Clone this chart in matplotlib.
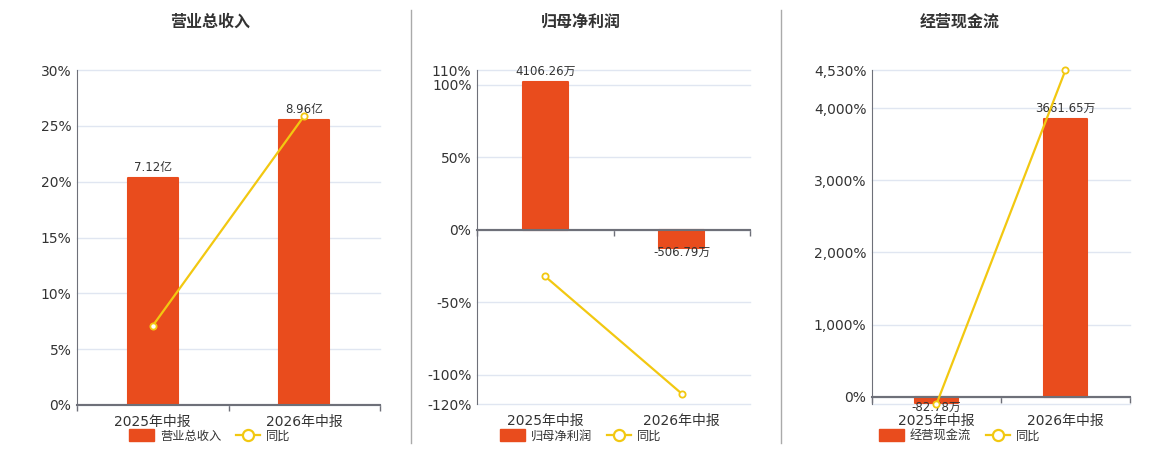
import matplotlib
matplotlib.use('Agg')
import matplotlib.pyplot as plt
from matplotlib.lines import Line2D
from matplotlib.patches import Patch
from matplotlib.ticker import FuncFormatter

plt.rcParams['font.family'] = ['DejaVu Sans', 'Noto Sans CJK SC']

BAR_COLOR = '#E94C1D'
LINE_COLOR = '#F2C811'
GRID_COLOR = '#E0E6F1'
AXIS_COLOR = '#6E7079'
TEXT_COLOR = '#333333'

periods = ['2025年中报', '2026年中报']

titles = ['营业总收入', '归母净利润', '经营现金流']

revenue = [7.12, 8.96]  # 亿
revenue_labels = ['7.12亿', '8.96亿']
revenue_yoy = [7.1, 25.9]

profit = [4106.26, -506.79]  # 万
profit_labels = ['4106.26万', '-506.79万']
profit_yoy = [-32.2, -112.9]

cashflow = [-82.78, 3661.65]  # 万
cashflow_labels = ['-82.78万', '3661.65万']
cashflow_yoy = [-101.0, 4530.0]

# y ticks of the percent axis (negative one in panel 3 is grid only)
yticks_1 = [0, 5, 10, 15, 20, 25, 30]
yticks_2 = [-120, -100, -50, 0, 50, 100, 110]
yticks_3 = [-101, 0, 1000, 2000, 3000, 4000, 4530]


def pct(v, pos=None):
    return f'{v:,.0f}%'


def pct_3(v, pos=None):
    if v < 0:
        return ''
    return f'{v:,.0f}%'


def draw_panel(fig, rect, title, title_x, bars, bar_labels, yoy, yticks, ylim, bar_lim, fmt):
    ax = fig.add_axes(rect)
    ax.set_xlim(-0.5, 1.5)
    ax.set_ylim(*ylim)
    ax.set_yticks(yticks)
    ax.yaxis.set_major_formatter(FuncFormatter(fmt))
    ax.yaxis.grid(True, color=GRID_COLOR, lw=1)
    for gl in ax.get_ygridlines():
        gl.set_clip_on(False)
    ax.set_axisbelow(True)
    ax.tick_params(axis='y', length=0, labelsize=10, labelcolor=TEXT_COLOR, pad=4)
    ax.set_xticks([-0.5, 0.5, 1.5])
    ax.set_xticklabels([])
    ax.tick_params(axis='x', length=4, width=1, color=AXIS_COLOR)
    for s in ['top', 'right']:
        ax.spines[s].set_visible(False)
    ax.spines['left'].set_color(AXIS_COLOR)
    ax.spines['bottom'].set_color(AXIS_COLOR)
    ax.spines['bottom'].set_linewidth(1.5)
    ax.spines['bottom'].set_position(('data', 0))

    for i, p in enumerate(periods):
        ax.annotate(p, xy=(i, 0), xycoords=('data', 'axes fraction'), xytext=(0, -7),
                    textcoords='offset points', ha='center', va='top', fontsize=10,
                    color=TEXT_COLOR)

    # bars on their own hidden scale, zero aligned with the percent axis
    axb = ax.twinx()
    axb.set_ylim(*bar_lim)
    axb.axis('off')
    rects = axb.bar(range(len(bars)), bars, width=0.33, color=BAR_COLOR,
                    edgecolor=BAR_COLOR, linewidth=1.5, joinstyle='round', zorder=2)
    axb.axhline(0, color=AXIS_COLOR, lw=1.5, zorder=3)
    for r, v, lab in zip(rects, bars, bar_labels):
        if v >= 0:
            axb.annotate(lab, xy=(r.get_x() + r.get_width() / 2, v), xytext=(0, 3),
                         textcoords='offset points', ha='center', va='bottom',
                         fontsize=8.5, color=TEXT_COLOR, zorder=5)
        else:
            axb.annotate(lab, xy=(r.get_x() + r.get_width() / 2, v), xytext=(0, 1.5),
                         textcoords='offset points', ha='center', va='top',
                         fontsize=8.5, color=TEXT_COLOR, zorder=5)

    # yoy line on top
    axl = ax.twinx()
    axl.set_ylim(*ylim)
    axl.axis('off')
    axl.plot(range(len(yoy)), yoy, color=LINE_COLOR, lw=1.6, marker='o', markersize=4.5,
             markerfacecolor='white', markeredgecolor=LINE_COLOR, markeredgewidth=1.3,
             clip_on=False, zorder=4)

    fig.text(title_x, 1 - 22 / 450, title, ha='center', va='center', fontsize=11.5,
             fontweight='bold', color=TEXT_COLOR)

    handles = [Patch(facecolor=BAR_COLOR, edgecolor=BAR_COLOR),
               Line2D([], [], color=LINE_COLOR, lw=1.6, marker='o', markersize=8,
                      markerfacecolor='white', markeredgecolor=LINE_COLOR, markeredgewidth=1.6)]
    fig.legend(handles, [title, '同比'], loc='center', bbox_to_anchor=(title_x, 1 - 436 / 450),
               ncol=2, frameon=False, fontsize=8.8, handlelength=2.0, handleheight=1.1,
               columnspacing=1.2, handletextpad=0.5, labelcolor=TEXT_COLOR)


fig = plt.figure(figsize=(11.6, 4.5), dpi=100)
W, H = 1160, 450

draw_panel(fig, [77 / W, 1 - 405 / H, 303 / W, 335 / H], titles[0], 210 / W,
           revenue, revenue_labels, revenue_yoy, yticks_1, (0, 30), (0, 10.53), pct)
draw_panel(fig, [477 / W, 1 - 404 / H, 273 / W, 334 / H], titles[1], 581 / W,
           profit, profit_labels, profit_yoy, yticks_2, (-120, 110), (-4833, 4430), pct)
draw_panel(fig, [872 / W, 1 - 404 / H, 258 / W, 334 / H], titles[2], 960 / W,
           cashflow, cashflow_labels, cashflow_yoy, yticks_3, (-101, 4530), (-96, 4308), pct_3)

for x in [411, 781]:
    fig.add_artist(Line2D([x / W, x / W], [1 - 10 / H, 1 - 443 / H], transform=fig.transFigure,
                          color='#AAAAAA', lw=1))

fig.savefig('out.png', dpi=100, facecolor='white')
